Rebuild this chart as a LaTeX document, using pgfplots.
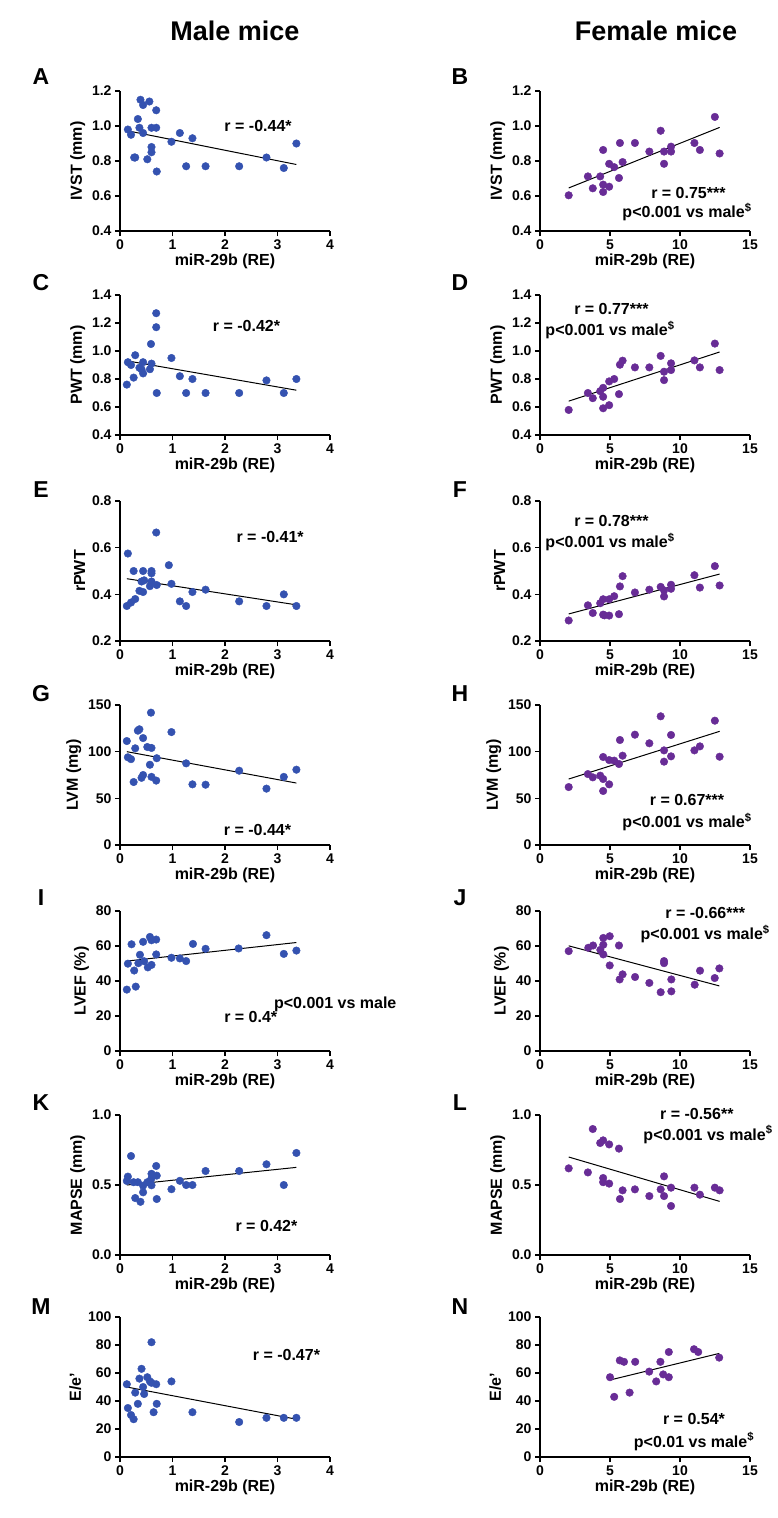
\documentclass[border=0pt]{standalone}
\usepackage{fontspec}
\setmainfont{Liberation Sans}
\usepackage{pgfplots}
\pgfplotsset{compat=1.18}
\definecolor{maleblue}{RGB}{52,82,176}
\definecolor{femalepurple}{RGB}{104,44,150}

\newcommand{\ann}{\fontsize{16}{19}\selectfont\bfseries}
\pgfplotsset{
  prism/.style={
    scale only axis, width=210pt, height=140pt, anchor=south west,
    axis lines*=left, axis line style={line width=1.3pt},
    tick align=outside, major tick length=5pt,
    tick style={line width=1.3pt, black},
    every tick label/.append style={font=\fontsize{14}{14}\selectfont\bfseries},
    label style={font=\fontsize{16}{16}\selectfont\bfseries},
    /pgf/number format/assume math mode=true,
    clip=false, xlabel={miR-29b (RE)},
    xlabel style={yshift=2pt},
  },
  male/.style={prism, xmin=0, xmax=4, xtick={0,1,2,3,4}},
  female/.style={prism, xmin=0, xmax=15, xtick={0,5,10,15}},
  dec1/.style={yticklabel style={/pgf/number format/.cd, fixed, fixed zerofill, precision=1}},
  mpts/.style={only marks, mark=*, mark size=3.8pt, maleblue},
  fpts/.style={only marks, mark=*, mark size=3.8pt, femalepurple},
  fit/.style={black, line width=1pt},
}

\begin{document}
\begin{tikzpicture}
\path (0,0) rectangle (778pt,-1518pt);

% titles and panel letters
\node[font=\fontsize{27}{27}\selectfont\bfseries] at (235pt,-31pt) {Male mice};
\node[font=\fontsize{27}{27}\selectfont\bfseries] at (656pt,-31pt) {Female mice};
\foreach \L/\y in {A/77,C/283,E/490,G/694,I/898,K/1103,M/1307}
  \node[font=\fontsize{23}{23}\selectfont\bfseries] at (41pt,-\y pt) {\L};
\foreach \L/\y in {B/77,D/283,F/490,H/694,J/898,L/1103,N/1307}
  \node[font=\fontsize{23}{23}\selectfont\bfseries] at (460pt,-\y pt) {\L};

% ---- A: IVST male
\begin{axis}[male, dec1, at={(120pt,-231pt)}, ymin=0.4, ymax=1.2, ytick={0.4,0.6,...,1.2}, ylabel={IVST (mm)}]
\addplot[mpts] coordinates {(0.15,0.98)(0.21,0.95)(0.27,0.82)(0.29,0.82)(0.34,1.04)(0.37,0.99)(0.39,1.15)(0.44,1.12)(0.44,0.96)(0.52,0.81)(0.56,1.14)(0.60,0.99)(0.60,0.88)(0.60,0.85)(0.69,1.09)(0.69,0.99)(0.70,0.74)(0.98,0.91)(1.14,0.96)(1.26,0.77)(1.38,0.93)(1.63,0.77)(2.27,0.77)(2.79,0.82)(3.12,0.76)(3.36,0.90)};
\addplot[fit] coordinates {(0.14,0.973)(3.36,0.78)};
\node[font=\ann] at (axis cs:2.63,1.0) {r = -0.44*};
\end{axis}

% ---- B: IVST female
\begin{axis}[female, dec1, at={(540pt,-231pt)}, ymin=0.4, ymax=1.2, ytick={0.4,0.6,...,1.2}, ylabel={IVST (mm)}]
\addplot[fpts] coordinates {(2.05,0.604)(3.42,0.712)(3.77,0.644)(4.30,0.712)(4.51,0.863)(4.51,0.665)(4.51,0.623)(4.94,0.784)(4.94,0.653)(5.30,0.765)(5.64,0.703)(5.71,0.903)(5.90,0.794)(6.78,0.903)(7.81,0.854)(8.62,0.973)(8.86,0.854)(8.86,0.784)(9.36,0.882)(9.36,0.854)(11.03,0.903)(11.42,0.863)(12.49,1.052)(12.83,0.843)};
\addplot[fit] coordinates {(2.05,0.646)(12.83,0.992)};
\node[font=\ann] at (axis cs:10.6,0.62) {r = 0.75***};
\node[font=\ann] at (axis cs:10.5,0.51) {p<0.001 vs male\textsuperscript{\$}};
\end{axis}

% ---- C: PWT male
\begin{axis}[male, dec1, at={(120pt,-435pt)}, ymin=0.4, ymax=1.4, ytick={0.4,0.6,...,1.4}, ylabel={PWT (mm)}]
\addplot[mpts] coordinates {(0.13,0.76)(0.15,0.92)(0.21,0.90)(0.26,0.81)(0.29,0.97)(0.37,0.88)(0.41,0.87)(0.44,0.92)(0.44,0.84)(0.57,0.87)(0.59,1.05)(0.60,0.91)(0.69,1.27)(0.69,1.17)(0.70,0.70)(0.98,0.95)(1.14,0.82)(1.26,0.70)(1.38,0.80)(1.63,0.70)(2.27,0.70)(2.79,0.79)(3.12,0.70)(3.36,0.80)};
\addplot[fit] coordinates {(0.13,0.93)(3.36,0.72)};
\node[font=\ann] at (axis cs:2.41,1.18) {r = -0.42*};
\end{axis}

% ---- D: PWT female
\begin{axis}[female, dec1, at={(540pt,-435pt)}, ymin=0.4, ymax=1.4, ytick={0.4,0.6,...,1.4}, ylabel={PWT (mm)}]
\addplot[fpts] coordinates {(2.05,0.579)(3.42,0.70)(3.77,0.663)(4.30,0.713)(4.51,0.737)(4.51,0.673)(4.51,0.591)(4.94,0.783)(4.94,0.613)(5.30,0.80)(5.64,0.692)(5.71,0.902)(5.90,0.931)(6.78,0.883)(7.81,0.883)(8.62,0.965)(8.86,0.852)(8.86,0.792)(9.36,0.912)(9.36,0.864)(11.03,0.933)(11.42,0.883)(12.49,1.053)(12.83,0.864)};
\addplot[fit] coordinates {(2.05,0.642)(12.83,0.993)};
\node[font=\ann] at (axis cs:5.1,1.30) {r = 0.77***};
\node[font=\ann] at (axis cs:5.0,1.15) {p<0.001 vs male\textsuperscript{\$}};
\end{axis}

% ---- E: rPWT male
\begin{axis}[male, dec1, at={(120pt,-641pt)}, ymin=0.2, ymax=0.8, ytick={0.2,0.4,0.6,0.8}, ylabel={rPWT}]
\addplot[mpts] coordinates {(0.13,0.35)(0.15,0.575)(0.21,0.365)(0.26,0.50)(0.29,0.38)(0.37,0.415)(0.41,0.455)(0.44,0.50)(0.44,0.41)(0.46,0.46)(0.57,0.435)(0.60,0.50)(0.60,0.49)(0.60,0.455)(0.69,0.665)(0.70,0.44)(0.93,0.525)(0.98,0.445)(1.14,0.37)(1.26,0.35)(1.38,0.41)(1.63,0.42)(2.27,0.37)(2.79,0.35)(3.12,0.40)(3.36,0.35)};
\addplot[fit] coordinates {(0.13,0.467)(3.36,0.355)};
\node[font=\ann] at (axis cs:2.86,0.647) {r = -0.41*};
\end{axis}

% ---- F: rPWT female
\begin{axis}[female, dec1, at={(540pt,-641pt)}, ymin=0.2, ymax=0.8, ytick={0.2,0.4,0.6,0.8}, ylabel={rPWT}]
\addplot[fpts] coordinates {(2.05,0.288)(3.42,0.353)(3.77,0.32)(4.30,0.362)(4.51,0.379)(4.51,0.313)(4.60,0.31)(4.94,0.379)(4.94,0.309)(5.30,0.392)(5.64,0.315)(5.71,0.434)(5.90,0.478)(6.78,0.408)(7.81,0.42)(8.62,0.432)(8.86,0.417)(8.86,0.391)(9.36,0.441)(9.36,0.424)(11.03,0.482)(11.42,0.429)(12.49,0.521)(12.83,0.438)};
\addplot[fit] coordinates {(2.05,0.316)(12.83,0.487)};
\node[font=\ann] at (axis cs:5.1,0.715) {r = 0.78***};
\node[font=\ann] at (axis cs:5.0,0.625) {p<0.001 vs male\textsuperscript{\$}};
\end{axis}

% ---- G: LVM male
\begin{axis}[male, at={(120pt,-845pt)}, ymin=0, ymax=150, ytick={0,50,100,150}, ylabel={LVM (mg)}]
\addplot[mpts] coordinates {(0.13,111.4)(0.15,94)(0.21,92)(0.26,67.5)(0.29,103.6)(0.34,122.5)(0.37,124)(0.41,72)(0.44,114.6)(0.44,75)(0.52,105)(0.57,86)(0.59,141.8)(0.60,104)(0.60,73)(0.69,69)(0.70,93)(0.98,121)(1.26,87.5)(1.38,65)(1.63,64.6)(2.27,79.6)(2.79,60.4)(3.12,73)(3.36,80.7)};
\addplot[fit] coordinates {(0.13,100)(3.36,66.4)};
\node[font=\ann] at (axis cs:2.62,16) {r = -0.44*};
\end{axis}

% ---- H: LVM female
\begin{axis}[female, at={(540pt,-845pt)}, ymin=0, ymax=150, ytick={0,50,100,150}, ylabel={LVM (mg)}]
\addplot[fpts] coordinates {(2.05,62.1)(3.42,76)(3.77,72.5)(4.30,74.3)(4.51,94.3)(4.51,70.7)(4.51,57.9)(4.94,91)(4.94,65)(5.30,90.4)(5.64,86.8)(5.71,112.5)(5.90,95.7)(6.78,118.2)(7.81,109)(8.62,137.9)(8.86,101.4)(8.86,89.3)(9.36,117.9)(9.36,95)(11.03,101.4)(11.42,105.7)(12.49,133.2)(12.83,94.6)};
\addplot[fit] coordinates {(2.05,70.7)(12.83,121.8)};
\node[font=\ann] at (axis cs:10.5,48) {r = 0.67***};
\node[font=\ann] at (axis cs:10.5,25) {p<0.001 vs male\textsuperscript{\$}};
\end{axis}

% ---- I: LVEF male
\begin{axis}[male, at={(120pt,-1051pt)}, ymin=0, ymax=80, ytick={0,20,40,60,80}, ylabel={LVEF (\%)}]
\addplot[mpts] coordinates {(0.13,35.1)(0.15,49.9)(0.22,61)(0.27,46)(0.30,36.8)(0.35,50.2)(0.38,55)(0.44,62.4)(0.46,51.3)(0.53,47.8)(0.57,65.2)(0.60,49.2)(0.60,63.3)(0.69,63.7)(0.69,55.2)(0.98,53.3)(1.14,52.9)(1.26,51.4)(1.39,61.2)(1.63,58.4)(2.26,58.6)(2.79,66.2)(3.12,55.5)(3.36,57.4)};
\addplot[fit] coordinates {(0.13,51.4)(3.36,62)};
\node[font=\ann] at (axis cs:2.49,19.3) {r = 0.4*};
\node[font=\ann] at (axis cs:4.1,26.9) {p<0.001 vs male};
\end{axis}

% ---- J: LVEF female
\begin{axis}[female, at={(540pt,-1051pt)}, ymin=0, ymax=80, ytick={0,20,40,60,80}, ylabel={LVEF (\%)}]
\addplot[fpts] coordinates {(2.05,57.1)(3.45,59)(3.79,60.3)(4.31,57.8)(4.52,64.6)(4.52,60.7)(4.52,55.2)(4.98,65.6)(4.98,48.9)(5.64,60.3)(5.69,40.9)(5.90,43.8)(6.79,42.3)(7.81,38.9)(8.62,33.6)(8.86,51.4)(8.86,50.2)(9.38,40.9)(9.38,34.1)(11.05,37.9)(11.43,45.9)(12.48,41.7)(12.81,47.2)};
\addplot[fit] coordinates {(2.05,60.1)(12.81,37.2)};
\node[font=\ann] at (axis cs:11.8,78.7) {r = -0.66***};
\node[font=\ann] at (axis cs:11.8,66.7) {p<0.001 vs male\textsuperscript{\$}};
\end{axis}

% ---- K: MAPSE male
\begin{axis}[male, dec1, at={(120pt,-1255pt)}, ymin=0, ymax=1, ytick={0,0.5,1}, ylabel={MAPSE (mm)}]
\addplot[mpts] coordinates {(0.13,0.529)(0.15,0.56)(0.21,0.707)(0.26,0.52)(0.29,0.407)(0.34,0.52)(0.39,0.38)(0.44,0.495)(0.44,0.448)(0.52,0.52)(0.57,0.524)(0.60,0.58)(0.60,0.548)(0.60,0.498)(0.69,0.636)(0.70,0.567)(0.70,0.40)(0.98,0.47)(1.14,0.53)(1.26,0.50)(1.38,0.50)(1.63,0.60)(2.27,0.60)(2.79,0.648)(3.12,0.50)(3.36,0.729)};
\addplot[fit] coordinates {(0.13,0.50)(3.36,0.626)};
\node[font=\ann] at (axis cs:2.79,0.21) {r = 0.42*};
\end{axis}

% ---- L: MAPSE female
\begin{axis}[female, dec1, at={(540pt,-1255pt)}, ymin=0, ymax=1, ytick={0,0.5,1}, ylabel={MAPSE (mm)}]
\addplot[fpts] coordinates {(2.05,0.619)(3.42,0.59)(3.77,0.90)(4.30,0.80)(4.51,0.819)(4.51,0.55)(4.51,0.52)(4.94,0.79)(4.94,0.51)(5.64,0.76)(5.71,0.40)(5.90,0.462)(6.78,0.469)(7.81,0.421)(8.62,0.469)(8.86,0.562)(8.86,0.421)(9.36,0.481)(9.36,0.35)(11.03,0.481)(11.42,0.431)(12.49,0.481)(12.83,0.462)};
\addplot[fit] coordinates {(2.05,0.70)(12.83,0.383)};
\node[font=\ann] at (axis cs:11.2,1.01) {r = -0.56**};
\node[font=\ann] at (axis cs:12.0,0.86) {p<0.001 vs male\textsuperscript{\$}};
\end{axis}

% ---- M: E/e' male
\begin{axis}[male, at={(120pt,-1457pt)}, ymin=0, ymax=100, ytick={0,20,40,60,80,100}, ylabel={E/e'}]
\addplot[mpts] coordinates {(0.13,52)(0.15,35)(0.21,30)(0.26,27)(0.29,46)(0.34,38)(0.37,56)(0.41,63)(0.44,50)(0.46,45)(0.52,57)(0.57,54)(0.60,53)(0.60,82)(0.64,32)(0.69,52)(0.70,38)(0.98,54)(1.38,32)(2.27,25)(2.79,28)(3.12,28)(3.36,28)};
\addplot[fit] coordinates {(0.13,50)(3.36,27)};
\node[font=\ann] at (axis cs:3.17,73) {r = -0.47*};
\end{axis}

% ---- N: E/e' female
\begin{axis}[female, at={(540pt,-1457pt)}, ymin=0, ymax=100, ytick={0,20,40,60,80,100}, ylabel={E/e'}]
\addplot[fpts] coordinates {(5.0,57)(5.3,43)(5.7,69)(6.0,68)(6.4,46)(6.8,68)(7.8,61)(8.3,54)(8.6,68)(8.8,59)(9.2,57)(9.2,75)(11.0,77)(11.3,75)(12.8,71)};
\addplot[fit] coordinates {(5.0,55)(12.8,74)};
\node[font=\ann] at (axis cs:11.0,27) {r = 0.54*};
\node[font=\ann] at (axis cs:11.0,11) {p<0.01 vs male\textsuperscript{\$}};
\end{axis}
\end{tikzpicture}
\end{document}
